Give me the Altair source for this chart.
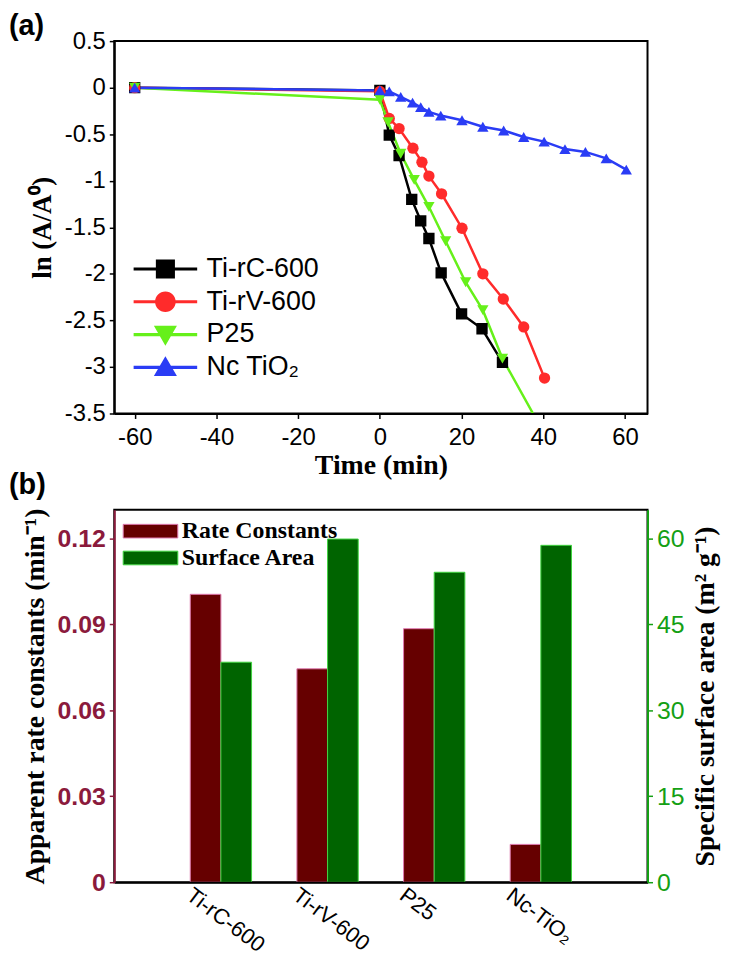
import altair as alt
import pandas as pd

# ---------------- Panel (a) data ----------------
series_names = ["Ti-rC-600", "Ti-rV-600", "P25", "Nc TiO₂"]
series_colors = ["#000000", "#ff2b2b", "#66f01a", "#2a3cf5"]
series_shapes = ["square", "circle", "triangle-down", "triangle-up"]
# legend glyphs: a short line segment with the series marker on top
legend_glyphs = [
    "M-4,-0.2H4V0.2H-4Z M-1.2,-1.2H1.2V1.2H-1.2Z",
    "M-4,-0.2H4V0.2H-4Z M-1.3,0A1.3,1.3,0,1,1,1.3,0A1.3,1.3,0,1,1,-1.3,0Z",
    "M-4,-0.2H4V0.2H-4Z M-1.45,-1.1H1.45L0,1.4Z",
    "M-4,-0.2H4V0.2H-4Z M1.45,1.1H-1.45L0,-1.4Z",
]

time_rc = [-60, 0, 2.3, 4.7, 7.8, 10, 12, 15, 20, 25, 30]
lnA_rc = [0, -0.03, -0.51, -0.73, -1.2, -1.43, -1.62, -1.99, -2.43, -2.59, -2.95]

time_rv = [-60, 0, 2.3, 4.7, 8.1, 10.3, 12, 15.1, 20.1, 25.2, 30.2, 35.2, 40.3]
lnA_rv = [0, -0.04, -0.33, -0.44, -0.65, -0.8, -0.95, -1.14, -1.51, -2.0, -2.27, -2.57, -3.12]

time_p25 = [-60, 0, 2, 5.1, 8.4, 12, 16.1, 21, 25.2, 30, 40]
lnA_p25 = [0, -0.13, -0.37, -0.71, -0.99, -1.28, -1.65, -2.09, -2.39, -2.91, -3.7]

time_nc = [-60, 0, 2.3, 5.1, 8, 10, 12, 14.9, 20.1, 25.2, 30.3, 35.2, 40.2, 45.3, 50.3, 55.4, 60.3]
lnA_nc = [0, -0.03, -0.04, -0.1, -0.16, -0.21, -0.26, -0.3, -0.35, -0.42, -0.46, -0.53, -0.58,
          -0.66, -0.69, -0.76, -0.88]

x_ticks_a = [-60, -40, -20, 0, 20, 40, 60]
y_ticks_a = [0.5, 0, -0.5, -1, -1.5, -2, -2.5, -3, -3.5]

# ---------------- Panel (b) data ----------------
categories = ["Ti-rC-600", "Ti-rV-600", "P25", "Nc-TiO₂"]
rate_constants = [0.1005, 0.0745, 0.0885, 0.0132]
surface_area = [38.4, 59.9, 54.1, 58.8]
bar_series = ["Rate Constants", "Surface Area"]
bar_fill = ["#660000", "#006400"]
bar_edge = ["#e07ab0", "#3fd43f"]
rate_ticks = [0, 0.03, 0.06, 0.09, 0.12]
area_ticks = [0, 15, 30, 45, 60]

# ---------------- build tables ----------------
rows = []
for name, ts, vs in zip(series_names, [time_rc, time_rv, time_p25, time_nc],
                        [lnA_rc, lnA_rv, lnA_p25, lnA_nc]):
    for t, v in zip(ts, vs):
        rows.append({"series": name, "time": t, "value": v})
dfa = pd.DataFrame(rows)

df_rate = pd.DataFrame({"category": categories, "value": rate_constants, "series": bar_series[0]})
df_area = pd.DataFrame({"category": categories, "value": surface_area, "series": bar_series[1]})

SANS = "Liberation Sans"
SERIF = "Liberation Serif"
minus_expr = "datum.value < 0 ? '-' + format(-datum.value, '~g') : format(datum.value, '~g')"

PANEL_W, PANEL_H, GAP = 537, 375, 97

x_a = alt.X("time:Q",
            scale=alt.Scale(domain=[-65, 65.5], nice=False, zero=False),
            axis=alt.Axis(values=x_ticks_a, labelExpr=minus_expr, title="Time (min)",
                          titleFont=SERIF, titleFontSize=28, titleFontWeight="bold",
                          titlePadding=2, labelFont=SANS, labelFontSize=24, labelColor="black",
                          labelPadding=7, tickSize=5, tickWidth=1.5, tickColor="black",
                          domainColor="black", domainWidth=2, grid=False, zindex=1))
y_a = alt.Y("value:Q",
            scale=alt.Scale(domain=[-3.5, 0.5], nice=False, zero=False),
            axis=alt.Axis(values=y_ticks_a, labelExpr=minus_expr, title="ln (A/A⁰)",
                          titleFont=SERIF, titleFontSize=27, titleFontWeight="bold",
                          titlePadding=8, labelFont=SANS, labelFontSize=24, labelColor="black",
                          labelPadding=4, tickSize=5, tickWidth=1.5, tickColor="black",
                          domainColor="black", domainWidth=2, grid=False, zindex=1))

lines = alt.Chart(dfa).mark_line(strokeWidth=2.5, clip=True).encode(
    x=x_a, y=y_a,
    color=alt.Color("series:N", scale=alt.Scale(domain=series_names, range=series_colors),
                    legend=None),
)
points = alt.Chart(dfa).mark_point(filled=True, size=130, opacity=1, clip=True).encode(
    x=x_a, y=y_a,
    color=alt.Color("series:N", scale=alt.Scale(domain=series_names, range=series_colors),
                    legend=None),
    shape=alt.Shape("series:N", scale=alt.Scale(domain=series_names, range=series_shapes),
                    legend=None),
)
legend_a = alt.Legend(orient="none", legendX=38, legendY=216, title=None, labelFont=SANS,
                      labelFontSize=27, labelColor="black", rowPadding=5, labelOffset=28,
                      padding=0, symbolSize=256, symbolStrokeWidth=0, symbolOpacity=1)
legend_key = alt.Chart(dfa).mark_point(filled=True, opacity=0, size=1, clip=True).encode(
    x=x_a, y=y_a,
    fill=alt.Fill("series:N", scale=alt.Scale(domain=series_names, range=series_colors),
                  legend=legend_a),
    shape=alt.Shape("series:N", scale=alt.Scale(domain=series_names, range=legend_glyphs),
                    legend=legend_a),
)

title_style = dict(anchor="start", frame="group", font=SANS, fontSize=29, fontWeight="bold",
                   color="black", dx=-106)

panel_a = alt.layer(lines, points, legend_key).resolve_scale(
    shape="independent", fill="independent"
).properties(
    width=PANEL_W, height=PANEL_H,
    title=alt.TitleParams("(a)", offset=-12, **title_style),
)

# ---------------- Panel (b) ----------------
x_b = alt.X("category:N", sort=categories,
            scale=alt.Scale(paddingInner=0, paddingOuter=0.5),
            axis=alt.Axis(title=None, labelAngle=37, labelAlign="left", labelBaseline="top",
                          labelOffset=-26, ticks=False, labelFont=SANS, labelFontSize=22,
                          labelColor="black", labelPadding=2, domainColor="black",
                          domainWidth=2, zindex=1))
x_off = alt.XOffset("series:N", scale=alt.Scale(domain=bar_series, paddingInner=0, paddingOuter=0.74))
bar_legend = alt.Legend(orient="none", legendX=22, legendY=7, title=None,
                        symbolType="M-2,-0.5H2V0.5H-2Z", symbolSize=756, symbolStrokeWidth=1,
                        labelFont=SERIF, labelFontSize=24, labelFontWeight="bold",
                        labelColor="black", labelOffset=17, rowPadding=0, padding=0)
color_b = alt.Color("series:N", scale=alt.Scale(domain=bar_series, range=bar_fill), legend=bar_legend)
stroke_b = alt.Stroke("series:N", scale=alt.Scale(domain=bar_series, range=bar_edge), legend=bar_legend)

rate_color = "#8b1a3c"
area_color = "#14a014"

rate_bars = alt.Chart(df_rate).mark_bar(strokeWidth=1).encode(
    x=x_b, xOffset=x_off,
    y=alt.Y("value:Q", scale=alt.Scale(domain=[0, 0.13], nice=False),
            axis=alt.Axis(orient="left", values=rate_ticks,
                          labelExpr="datum.value == 0 ? '0' : format(datum.value, '.2f')",
                          title="Apparent rate constants (min⁻¹)", titleFont=SERIF,
                          titleFontSize=28, titleFontWeight="bold", titleColor="black",
                          titlePadding=8, labelFont=SANS, labelFontSize=25, labelFontWeight="bold",
                          labelColor=rate_color, labelPadding=4, tickSize=5, tickWidth=1.5,
                          tickColor=rate_color, domainColor=rate_color, domainWidth=2,
                          grid=False, zindex=1)),
    color=color_b, stroke=stroke_b,
)
area_bars = alt.Chart(df_area).mark_bar(strokeWidth=1).encode(
    x=x_b, xOffset=x_off,
    y=alt.Y("value:Q", scale=alt.Scale(domain=[0, 65], nice=False),
            axis=alt.Axis(orient="right", values=area_ticks,
                          title="Specific surface area (m² g⁻¹)", titleFont=SERIF,
                          titleFontSize=28, titleFontWeight="bold", titleColor="black",
                          titleAngle=270, titleBaseline="top", titlePadding=8,
                          labelFont=SANS, labelFontSize=25,
                          labelColor=area_color, labelPadding=4, tickSize=5, tickWidth=1.5,
                          tickColor=area_color, domainColor=area_color, domainWidth=2,
                          grid=False, zindex=1)),
    color=color_b, stroke=stroke_b,
)

panel_b = alt.layer(rate_bars, area_bars).resolve_scale(y="independent").properties(
    width=PANEL_W, height=PANEL_H,
    title=alt.TitleParams("(b)", offset=8, **title_style),
)

chart = alt.vconcat(panel_a, panel_b, spacing=GAP, bounds="flush").resolve_scale(
    color="independent", stroke="independent", fill="independent", shape="independent"
).properties(
    padding=0, background="white"
).configure_view(stroke="black", strokeWidth=2)

chart.save("out.html", embed_options={"renderer": "svg", "actions": False})
